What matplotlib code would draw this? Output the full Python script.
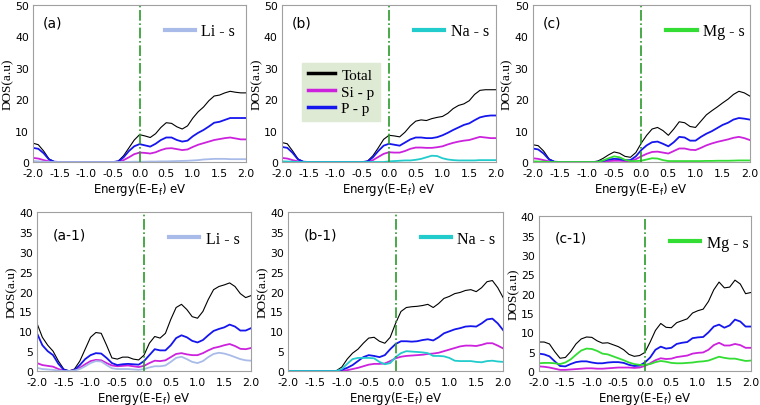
import numpy as np
import matplotlib.pyplot as plt

# energy grid (eV), 0.1 eV steps
energy = np.linspace(-2.0, 2.0, 41)

# ---- top row ----
a_total = [6, 5.5, 3.5, 1, 0.1, 0, 0, 0, 0, 0, 0, 0, 0, 0, 0, 0, 0.3, 2, 4.5, 7,
           8.7, 8.3, 7.8, 9, 11, 12.5, 12.3, 11.2, 10.5, 11.5, 14, 16, 17.5, 19.5, 21, 21.3,
           22, 22.5, 22.2, 22, 22]
a_pp = [4.5, 4.2, 2.8, 0.8, 0.1, 0, 0, 0, 0, 0, 0, 0, 0, 0, 0, 0, 0.2, 1.5, 3.5, 5,
        5.7, 5.3, 4.9, 5.8, 7, 7.8, 7.8, 7.0, 6.5, 6.8, 8.2, 9.3, 10.2, 11.3, 12.5, 12.8,
        13.4, 14, 14, 14, 14]
a_sip = [1.3, 1.1, 0.6, 0.2, 0, 0, 0, 0, 0, 0, 0, 0, 0, 0, 0, 0, 0.1, 0.6, 1.5, 2.5,
         3, 2.9, 2.7, 3.1, 3.8, 4.3, 4.4, 4.1, 3.8, 4.0, 4.8, 5.5, 6, 6.5, 7.0, 7.3,
         7.6, 7.8, 7.5, 7.2, 7.2]
a_s = [0.3, 0.2, 0.1, 0, 0, 0, 0, 0, 0, 0, 0, 0, 0, 0, 0, 0, 0, 0, 0.05, 0.1,
       0.1, 0.1, 0.15, 0.15, 0.2, 0.2, 0.25, 0.3, 0.35, 0.4, 0.5, 0.6, 0.8, 0.9, 1.0, 1.0,
       1.0, 0.9, 0.9, 0.9, 0.9]

b_total = [6.2, 5.8, 3.5, 1, 0.1, 0, 0, 0, 0, 0, 0, 0, 0, 0, 0, 0, 0.3, 2, 4.5, 7.2,
           8.5, 8.3, 8.0, 9.5, 11.5, 13, 13.4, 13.2, 13.8, 14.2, 14.5, 15.5, 17, 18, 18.5, 19.5,
           21.5, 22.8, 23, 23, 23]
b_pp = [4.8, 4.5, 2.9, 0.8, 0.1, 0, 0, 0, 0, 0, 0, 0, 0, 0, 0, 0, 0.2, 1.5, 3.5, 5.2,
        5.8, 5.5, 5.2, 6.2, 7.2, 7.8, 7.8, 7.6, 7.6, 7.9, 8.5, 9.3, 10.2, 11, 11.8, 12.3,
        13.3, 14.2, 14.6, 14.8, 14.8]
b_sip = [1.3, 1.1, 0.6, 0.2, 0, 0, 0, 0, 0, 0, 0, 0, 0, 0, 0, 0, 0, 0.6, 1.6, 2.6,
         3.1, 3.0, 3.0, 3.5, 4.2, 4.6, 4.6, 4.5, 4.5, 4.7, 5.0, 5.6, 6.1, 6.5, 6.8, 7.0,
         7.5, 8.0, 7.8, 7.6, 7.6]
b_s = [0.2, 0.15, 0.1, 0, 0, 0, 0, 0, 0, 0, 0, 0, 0, 0, 0, 0, 0, 0, 0, 0,
       0.2, 0.3, 0.4, 0.5, 0.5, 0.7, 1.0, 1.5, 2.0, 1.9, 1.2, 0.8, 0.6, 0.5, 0.5, 0.5,
       0.5, 0.6, 0.6, 0.6, 0.6]

c_total = [5.5, 5.2, 3.5, 1, 0.1, 0, 0, 0, 0, 0, 0, 0, 0.3, 1.2, 2.3, 3.2, 2.8, 1.8, 1.5, 3,
           6, 8.5, 10.5, 11, 10, 8.5, 10.5, 12.8, 12.5, 11.3, 11, 13, 15, 16.3, 17.5, 18.8,
           20, 21.5, 22.5, 22, 21]
c_pp = [4.3, 4.0, 2.7, 0.8, 0.1, 0, 0, 0, 0, 0, 0, 0, 0.1, 0.4, 0.8, 1.0, 0.9, 0.6, 0.6, 1.8,
        3.8, 5.3, 6.3, 6.5, 5.8, 5.0, 6.3, 8.0, 7.8, 6.8, 6.8, 8.0, 9.0, 9.8, 10.8, 11.8,
        12.5, 13.5, 14.0, 13.8, 13.5]
c_sip = [1.2, 1.0, 0.6, 0.2, 0, 0, 0, 0, 0, 0, 0, 0, 0, 0.1, 0.3, 0.4, 0.4, 0.3, 0.3, 0.9,
         1.8, 2.6, 3.2, 3.3, 3.0, 2.7, 3.5, 4.3, 4.3, 3.9, 3.8, 4.5, 5.3, 5.9, 6.4, 6.8,
         7.2, 7.7, 8.0, 7.6, 7.0]
c_s = [0.2, 0.15, 0.1, 0, 0, 0, 0, 0, 0, 0, 0, 0, 0, 0.5, 1.2, 1.8, 1.5, 0.7, 0.3, 0.3,
       0.4, 0.8, 1.2, 1.1, 0.6, 0.3, 0.3, 0.3, 0.3, 0.3, 0.3, 0.3, 0.35, 0.35, 0.4, 0.4,
       0.4, 0.45, 0.5, 0.5, 0.5]

# ---- bottom row ----
a1_total = [12, 8.5, 6.5, 5, 2.5, 0.5, 0, 0.5, 2.5, 5.5, 8.5, 9.7, 9.5, 6.5, 3.3, 3, 3.5, 3.5, 3, 2.8,
            4, 7, 8.7, 8.3, 9.5, 13, 16, 16.8, 15.5, 13.7, 13.3, 15, 18, 20.5, 21.3, 21.7,
            22.2, 21.3, 19.5, 18.5, 19]
a1_pp = [9.5, 6.5, 5, 4, 1.8, 0.3, 0, 0.2, 1.5, 3, 4, 4.5, 4.4, 3.3, 2, 1.5, 1.7, 1.8, 1.7, 1.6,
         2.5, 4, 5.5, 5.2, 5.2, 6.5, 8.3, 9, 8.5, 7.6, 7.2, 7.8, 9, 10.1, 10.6, 11,
         11.7, 11.2, 10.2, 10.2, 10.8]
a1_sip = [2.0, 1.5, 1.3, 1.1, 0.5, 0.1, 0, 0.2, 0.8, 1.7, 2.5, 2.8, 2.7, 2.0, 1.4, 1.2, 1.3, 1.4, 1.2, 1.0,
          1.3, 2.0, 2.6, 2.5, 2.7, 3.5, 4.3, 4.5, 4.2, 4.0, 4.0, 4.5, 5.2, 5.8, 6.1, 6.5,
          6.8, 6.3, 5.6, 5.5, 5.8]
a1_s = [0.8, 0.5, 0.4, 0.3, 0.1, 0, 0, 0.1, 0.5, 1.2, 2.0, 2.5, 2.4, 1.5, 0.7, 0.5, 0.5, 0.5, 0.4, 0.3,
        0.5, 0.9, 1.2, 1.2, 1.4, 2.3, 3.3, 3.6, 3.0, 2.3, 2.0, 2.5, 3.5, 4.3, 4.6, 4.4,
        4.0, 3.5, 3.0, 2.7, 2.6]

b1_total = [0, 0, 0, 0, 0, 0, 0, 0, 0, 0.1, 1, 3, 4.5, 5.5, 7, 8.3, 8.5, 7.5, 7, 8.5,
            12, 15, 16, 16.2, 16.3, 16.5, 16.8, 16, 17, 18.3, 18.8, 19.5, 19.8, 20.3, 20.5, 20,
            21, 22.5, 22.8, 21, 18.5]
b1_pp = [0, 0, 0, 0, 0, 0, 0, 0, 0, 0, 0.3, 0.8, 1.5, 2.5, 3.5, 4, 3.8, 3.5, 4, 5.5,
         6.8, 7.5, 7.5, 7.4, 7.5, 7.8, 8.0, 7.7, 8.5, 9.5, 10, 10.5, 10.8, 11.2, 11.3, 11.2,
         12.0, 13.0, 13.2, 12, 10.3]
b1_sip = [0, 0, 0, 0, 0, 0, 0, 0, 0, 0, 0, 0.2, 0.5, 0.8, 1.2, 1.6, 1.8, 1.8, 1.9, 2.5,
          3.2, 3.6, 3.8, 3.9, 4.0, 4.1, 4.3, 4.4, 4.6, 5.0, 5.4, 5.8, 6.2, 6.4, 6.4, 6.3,
          6.6, 7.0, 7.0, 6.4, 5.7]
b1_s = [0, 0, 0, 0, 0, 0, 0, 0, 0, 0, 0.5, 1.8, 3, 3.3, 3.3, 3.3, 3.2, 2.3, 1.7, 2.0,
        3.5, 4.5, 5.0, 4.9, 4.8, 4.7, 4.5, 3.8, 3.8, 3.7, 3.3, 2.6, 2.5, 2.5, 2.5, 2.3,
        2.2, 2.5, 2.6, 2.4, 2.3]

c1_total = [7.5, 7.5, 7.0, 5, 3.3, 3.5, 5, 7, 8.3, 8.8, 8.7, 7.8, 7.2, 7.3, 6.8, 6.3, 5.5, 4.3, 3.8, 4.0,
            4.8, 7.5, 10.5, 12.3, 11.3, 11.2, 12.5, 13, 13.5, 15, 15.6, 16, 18, 21, 23, 21.5,
            21.7, 23.5, 22.5, 20, 20.3]
c1_pp = [4.5, 4.3, 3.8, 2.5, 1.3, 1.2, 1.8, 2.3, 2.5, 2.5, 2.2, 2.0, 2.0, 2.2, 2.3, 2.3, 2.1, 1.6, 1.3, 1.4,
         2.2, 3.5, 5.5, 6.3, 5.8, 6.0, 7.0, 7.3, 7.5, 8.5, 8.7, 8.8, 10, 11.5, 12, 11.2,
         11.8, 13.3, 12.8, 11.5, 11.5]
c1_sip = [1.2, 1.1, 0.9, 0.6, 0.3, 0.3, 0.4, 0.5, 0.6, 0.7, 0.7, 0.6, 0.6, 0.7, 0.8, 0.9, 0.9, 0.9, 0.8, 0.9,
          1.3, 2.0, 2.8, 3.3, 3.1, 3.2, 3.6, 3.8, 4.0, 4.5, 4.7, 4.8, 5.5, 6.7, 7.3, 6.6,
          6.6, 7.0, 6.7, 6.0, 6.0]
c1_s = [2.0, 2.1, 2.1, 2.0, 1.8, 2.2, 3.0, 4.2, 5.3, 5.8, 5.7, 5.2, 4.5, 4.3, 3.8, 3.3, 2.8, 2.2, 1.8, 1.6,
        1.6, 1.8, 2.3, 2.6, 2.4, 2.1, 2.0, 2.0, 2.1, 2.2, 2.4, 2.5, 2.7, 3.2, 3.7, 3.4,
        3.2, 3.2, 2.9, 2.6, 2.7]

labels = ["(a)", "(b)", "(c)", "(a-1)", "(b-1)", "(c-1)"]
s_names = ["Li - s", "Na - s", "Mg - s", "Li - s", "Na - s", "Mg - s"]
s_colors = ["#a9bbe8", "#22cccc", "#33dd33", "#a9bbe8", "#22cccc", "#33dd33"]
totals = [a_total, b_total, c_total, a1_total, b1_total, c1_total]
pps = [a_pp, b_pp, c_pp, a1_pp, b1_pp, c1_pp]
sips = [a_sip, b_sip, c_sip, a1_sip, b1_sip, c1_sip]
ss = [a_s, b_s, c_s, a1_s, b1_s, c1_s]

# axes boxes [left, bottom, width, height] in figure fractions
boxes = [[0.0434, 0.5985, 0.2805, 0.387],
         [0.371, 0.5985, 0.2816, 0.387],
         [0.701, 0.5985, 0.2855, 0.387],
         [0.0487, 0.0837, 0.2816, 0.391],
         [0.379, 0.0837, 0.283, 0.391],
         [0.709, 0.0837, 0.279, 0.381]]

fig = plt.figure(figsize=(7.6, 4.06), dpi=100)

for k in range(6):
    ax = fig.add_axes(boxes[k])
    l_tot, = ax.plot(energy, totals[k], color="black", lw=0.8)
    l_si, = ax.plot(energy, sips[k], color="#cc22dd", lw=1.3)
    l_p, = ax.plot(energy, pps[k], color="#1515ee", lw=1.3)
    l_s, = ax.plot(energy, ss[k], color=s_colors[k], lw=1.3)
    ax.axvline(0, color="#2a9a2a", lw=1.2, ls="-.")

    ax.set_xlim(-2, 2)
    if k < 3:
        ax.set_ylim(0, 50)
        ax.set_yticks([0, 10, 20, 30, 40, 50])
    else:
        ax.set_ylim(0, 40)
        ax.set_yticks([0, 5, 10, 15, 20, 25, 30, 35, 40])
    ax.set_xticks(np.arange(-2.0, 2.01, 0.5))
    ax.set_xticklabels(["%.1f" % v for v in np.arange(-2.0, 2.01, 0.5)])
    ax.tick_params(axis="x", length=0, labelsize=7.8, pad=4)
    ax.tick_params(axis="y", length=0, labelsize=7.8, pad=3)
    for sp in ax.spines.values():
        sp.set_color("#a0a0a0")

    ax.set_ylabel("DOS(a.u)", family="Liberation Serif", fontsize=9.5, labelpad=1)
    ax.set_xlabel(r"Energy(E-E$_\mathrm{f}$) eV", fontsize=8.5, labelpad=2)

    lx, ly = (0.045, 0.89) if k < 3 else (0.075, 0.86)
    ax.text(lx, ly, labels[k], transform=ax.transAxes, fontsize=10, va="center")

    leg = ax.legend([l_s], [s_names[k]], loc="upper left", bbox_to_anchor=(0.55, 0.975),
                    frameon=False, handlelength=1.9, handletextpad=0.4,
                    prop={"family": "Liberation Serif", "size": 11.5})
    for h in leg.get_lines():
        h.set_linewidth(3)

    if k == 1:
        ax.add_artist(leg)
        leg2 = ax.legend([l_tot, l_si, l_p], ["Total", "Si - p", "P - p"],
                         loc="upper left", bbox_to_anchor=(0.06, 0.68),
                         frameon=True, fancybox=False, framealpha=1,
                         facecolor="#dfead5", edgecolor="#dfead5",
                         handlelength=1.8, handletextpad=0.4, labelspacing=0.2,
                         borderpad=0.35, prop={"family": "Liberation Serif", "size": 11})
        for h in leg2.get_lines():
            h.set_linewidth(2.5)

fig.savefig("out.png", dpi=100)
